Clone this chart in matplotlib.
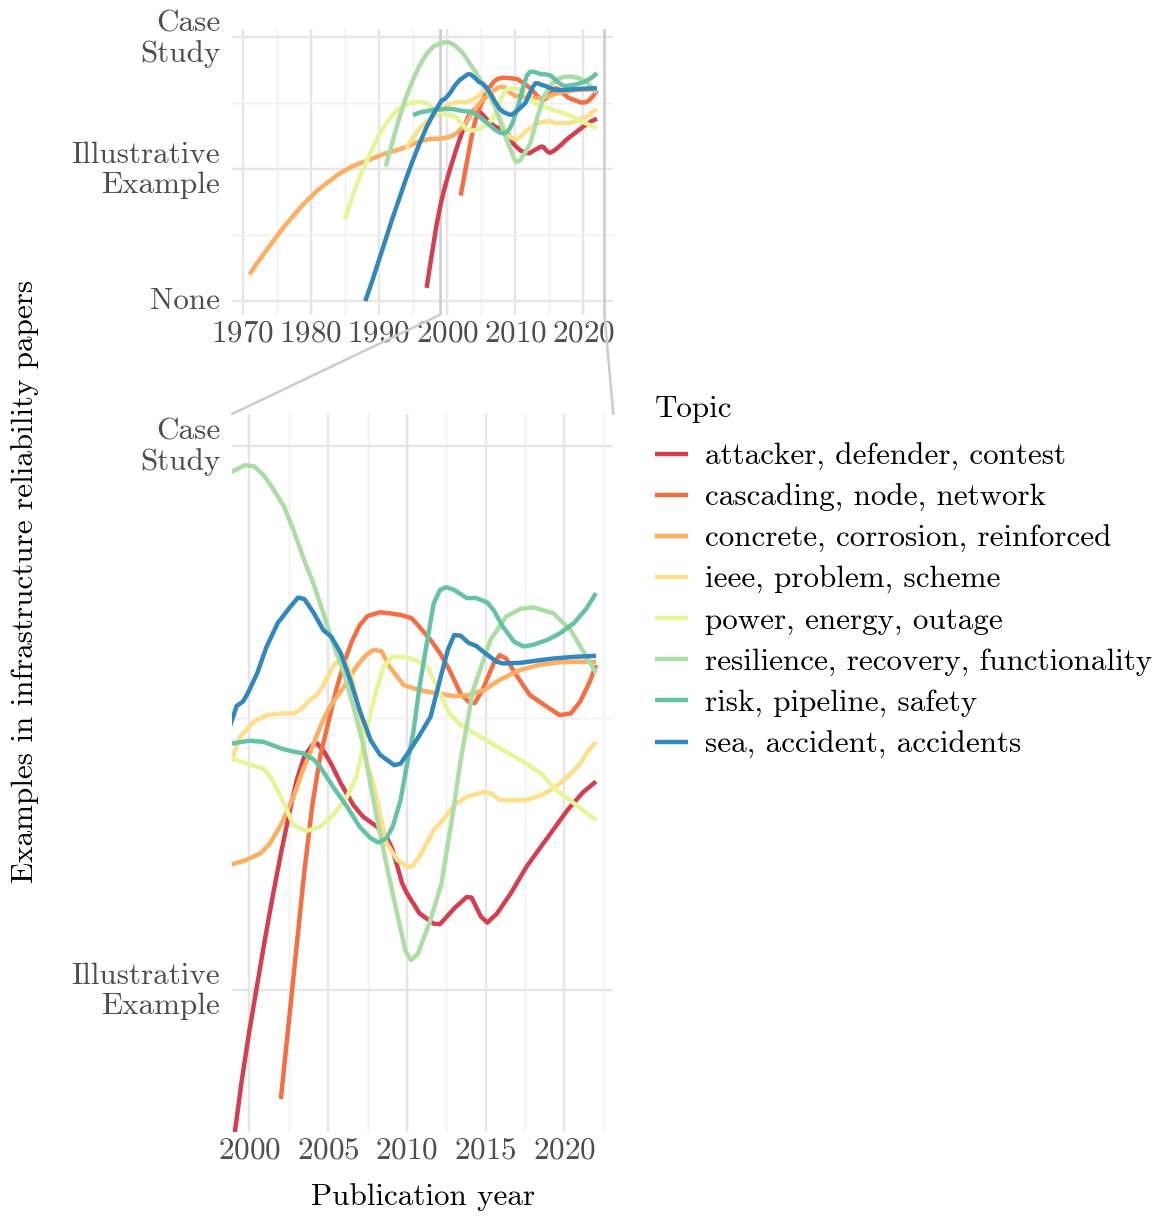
import matplotlib
matplotlib.use("Agg")
import matplotlib.pyplot as plt
import matplotlib.transforms as mtransforms
from matplotlib.lines import Line2D
from matplotlib.patches import ConnectionPatch
from matplotlib.ticker import MultipleLocator

plt.rcParams['font.family'] = 'cmr10'
plt.rcParams['mathtext.fontset'] = 'cm'
plt.rcParams['axes.formatter.use_mathtext'] = True

# ---- data: smoothed example level per topic over publication year ----
topics = [
    "attacker, defender, contest",
    "cascading, node, network",
    "concrete, corrosion, reinforced",
    "ieee, problem, scheme",
    "power, energy, outage",
    "resilience, recovery, functionality",
    "risk, pipeline, safety",
    "sea, accident, accidents",
]
colors = ["#D53E4F", "#F46D43", "#FDAE61", "#FEE08B",
          "#E6F598", "#ABDDA4", "#66C2A5", "#3288BD"]

attacker_year = [1997.0, 1997.5, 1998.0, 1998.5, 1999.1, 1999.5, 2000.0, 2000.5, 2001.0,
                 2001.5, 2002.0, 2002.5, 2003.0, 2003.5, 2004.0, 2004.3, 2004.7, 2005.2,
                 2005.8, 2006.6, 2007.2, 2008.1, 2008.7, 2009.1, 2009.7, 2010.0, 2010.8,
                 2011.7, 2012.1, 2013.0, 2013.8, 2014.1, 2014.7, 2015.1, 2015.7, 2016.6,
                 2017.6, 2018.9, 2020.2, 2021.2, 2022.0]
attacker_val = [0.10, 0.27, 0.43, 0.59, 0.743, 0.83, 0.925, 1.01, 1.095,
                1.175, 1.25, 1.32, 1.385, 1.43, 1.450, 1.453, 1.44, 1.415,
                1.38, 1.340, 1.319, 1.300, 1.282, 1.257, 1.196, 1.178, 1.141,
                1.122, 1.121, 1.150, 1.171, 1.170, 1.135, 1.124, 1.140, 1.178,
                1.227, 1.279, 1.331, 1.364, 1.383]

cascading_year = [2002.0, 2002.5, 2003.0, 2003.5, 2004.0, 2004.5, 2005.0, 2005.5, 2006.0,
                  2006.5, 2007.0, 2007.5, 2008.3, 2008.9, 2009.6, 2010.3, 2010.8, 2011.5,
                  2012.1, 2012.7, 2013.4, 2013.9, 2014.3, 2014.8, 2015.5, 2015.9, 2016.3,
                  2017.0, 2017.8, 2018.7, 2019.7, 2020.4, 2021.0, 2021.6, 2022.0]
cascading_val = [0.80, 0.94, 1.08, 1.22, 1.34, 1.43, 1.49, 1.55, 1.60,
                 1.64, 1.67, 1.687, 1.694, 1.692, 1.689, 1.683, 1.667, 1.643,
                 1.619, 1.588, 1.545, 1.530, 1.527, 1.551, 1.600, 1.615, 1.609,
                 1.576, 1.542, 1.524, 1.505, 1.508, 1.530, 1.566, 1.597]

concrete_year = [1971, 1972, 1973, 1974, 1975, 1976, 1977, 1978, 1979, 1980, 1981, 1982,
                 1983, 1984, 1985, 1986, 1987, 1988, 1989, 1990, 1991, 1992, 1993, 1994,
                 1995, 1996, 1997, 1998, 1998.9, 1999.8, 2000.7, 2001.3, 2002.05, 2002.8,
                 2003.4, 2003.85, 2004.5, 2005.1, 2006.0, 2006.8, 2007.4, 2007.9, 2008.4,
                 2008.9, 2009.8, 2010.8, 2011.9, 2013.0, 2013.8, 2014.9, 2015.9, 2017.2,
                 2018.4, 2019.7, 2021.0, 2022.0]
concrete_val = [0.20, 0.28, 0.35, 0.42, 0.49, 0.56, 0.62, 0.68, 0.74, 0.79, 0.84, 0.88,
                0.92, 0.96, 0.99, 1.02, 1.04, 1.06, 1.08, 1.10, 1.12, 1.135, 1.15, 1.17,
                1.19, 1.21, 1.225, 1.23, 1.231, 1.239, 1.251, 1.269, 1.306, 1.355,
                1.404, 1.435, 1.484, 1.520, 1.557, 1.594, 1.615, 1.625, 1.622,
                1.594, 1.560, 1.551, 1.545, 1.540, 1.541, 1.551, 1.570, 1.588,
                1.597, 1.602, 1.603, 1.603]

ieee_year = [1994, 1995, 1996, 1997, 1998, 1998.9, 1999.4, 2000.3, 2001.1, 2002.0,
             2002.8, 2003.2, 2003.85, 2004.3, 2004.7, 2005.3, 2005.8, 2006.2, 2006.6,
             2007.0, 2007.4, 2007.8, 2008.1, 2008.7, 2009.4, 2010.0, 2010.3, 2010.8,
             2011.7, 2012.3, 2013.0, 2013.8, 2014.9, 2015.3, 2015.9, 2016.8, 2017.6,
             2018.5, 2019.3, 2020.2, 2021.0, 2021.4, 2022.0]
ieee_val = [1.16, 1.24, 1.31, 1.36, 1.40, 1.423, 1.465, 1.493, 1.505, 1.508,
            1.508, 1.514, 1.533, 1.542, 1.560, 1.594, 1.610, 1.600, 1.565,
            1.502, 1.423, 1.386, 1.349, 1.270, 1.239, 1.227, 1.227, 1.245,
            1.294, 1.313, 1.340, 1.355, 1.364, 1.362, 1.349, 1.349, 1.349,
            1.358, 1.370, 1.392, 1.416, 1.435, 1.456]

power_year = [1985, 1986, 1987, 1988, 1989, 1990, 1991, 1992, 1993, 1994, 1995, 1996,
              1997, 1998, 1998.9, 1999.8, 2000.9, 2001.4, 2002.2, 2002.8, 2003.6, 2004.5,
              2005.3, 2006.2, 2006.8, 2007.2, 2007.9, 2008.5, 2009.1, 2009.8, 2010.6,
              2011.3, 2011.9, 2012.7, 2013.4, 2014.7, 2015.9, 2017.2, 2018.5, 2019.5,
              2020.6, 2022.0]
power_val = [0.62, 0.78, 0.92, 1.04, 1.15, 1.26, 1.34, 1.41, 1.46, 1.49, 1.505, 1.51,
             1.50, 1.46, 1.426, 1.416, 1.407, 1.389, 1.343, 1.303, 1.292, 1.300,
             1.321, 1.355, 1.392, 1.447, 1.533, 1.594, 1.612, 1.612, 1.606,
             1.594, 1.557, 1.508, 1.487, 1.465, 1.444, 1.423, 1.398, 1.367,
             1.343, 1.312]

resilience_year = [1991, 1992, 1993, 1994, 1995, 1996, 1997, 1998, 1998.9, 1999.7,
                   2000.3, 2000.9, 2001.5, 2002.2, 2002.8, 2003.4, 2004.1, 2004.7,
                   2005.3, 2006.0, 2006.6, 2007.2, 2008.1, 2009.0, 2009.9, 2010.25,
                   2010.7, 2011.5, 2012.2, 2012.95, 2013.4, 2014.2, 2015.3, 2016.3,
                   2017.2, 2018.0, 2019.3, 2020.4, 2021.4, 2022.0]
resilience_val = [1.02, 1.21, 1.39, 1.55, 1.68, 1.79, 1.875, 1.93, 1.952, 1.964,
                  1.962, 1.946, 1.921, 1.888, 1.845, 1.796, 1.744, 1.692,
                  1.637, 1.582, 1.521, 1.454, 1.315, 1.190, 1.073, 1.055,
                  1.067, 1.129, 1.196, 1.331, 1.420, 1.551, 1.643, 1.686,
                  1.700, 1.703, 1.692, 1.661, 1.612, 1.582]

risk_year = [1995, 1996, 1997, 1998, 1998.9, 2000.0, 2000.9, 2002.0, 2002.8, 2003.4,
             2004.1, 2004.5, 2005.3, 2006.2, 2007.0, 2007.7, 2008.2, 2008.7, 2009.1,
             2009.6, 2009.9, 2010.4, 2010.8, 2011.3, 2011.7, 2012.1, 2012.5, 2013.0,
             2013.8, 2014.4, 2015.1, 2015.5, 2016.1, 2016.8, 2017.4, 2018.0, 2018.9,
             2019.7, 2020.6, 2021.4, 2022.0]
risk_val = [1.41, 1.43, 1.44, 1.45, 1.453, 1.458, 1.456, 1.444, 1.438, 1.435,
            1.423, 1.410, 1.374, 1.337, 1.300, 1.279, 1.271, 1.279, 1.300,
            1.349, 1.398, 1.472, 1.557, 1.643, 1.710, 1.735, 1.740, 1.735,
            1.720, 1.720, 1.712, 1.698, 1.667, 1.640, 1.631, 1.634, 1.643,
            1.655, 1.674, 1.701, 1.729]

sea_year = [1988, 1989, 1990, 1991, 1992, 1993, 1994, 1995, 1996, 1997, 1998, 1998.9,
            1999.2, 1999.6, 1999.9, 2000.5, 2001.1, 2001.8, 2002.6, 2003.1, 2003.5,
            2004.1, 2004.7, 2005.2, 2005.8, 2006.4, 2007.0, 2007.7, 2008.3, 2009.2,
            2009.6, 2010.2, 2010.8, 2011.5, 2012.1, 2012.6, 2013.0, 2013.4, 2013.9,
            2014.4, 2015.0, 2015.7, 2016.1, 2017.2, 2018.2, 2019.3, 2020.6, 2022.0]
sea_val = [0.0, 0.15, 0.31, 0.47, 0.63, 0.78, 0.93, 1.07, 1.20, 1.32, 1.42, 1.496,
           1.522, 1.530, 1.545, 1.582, 1.631, 1.674, 1.704, 1.721, 1.718,
           1.692, 1.661, 1.649, 1.619, 1.570, 1.514, 1.459, 1.432, 1.413,
           1.416, 1.441, 1.468, 1.502, 1.570, 1.625, 1.652, 1.651, 1.638,
           1.632, 1.618, 1.603, 1.600, 1.601, 1.605, 1.609, 1.612, 1.614]

series = [
    (attacker_year, attacker_val),
    (cascading_year, cascading_val),
    (concrete_year, concrete_val),
    (ieee_year, ieee_val),
    (power_year, power_val),
    (resilience_year, resilience_val),
    (risk_year, risk_val),
    (sea_year, sea_val),
]

level_ticks = [0, 1, 2]
level_labels = ["None", "Illustrative\nExample", "Case\nStudy"]
zoom_range = (1998.9, 2023.1)

# ---- layout (pixel geometry of a 1164 x 1217 canvas) ----
W, H = 1164, 1217
fig = plt.figure(figsize=(W / 100, H / 100), dpi=100)


def px_axes(left, top, right, bottom):
    return fig.add_axes([left / W, 1 - bottom / H, (right - left) / W, (bottom - top) / H])


ax_top = px_axes(232, 29.3, 613.3, 315)
ax_bot = px_axes(232, 414, 613.3, 1131.7)

FS = 22.4
TICK_COLOR = "#4D4D4D"
LW = 3.2

for ax in (ax_top, ax_bot):
    for s in ax.spines.values():
        s.set_visible(False)
    ax.set_facecolor("white")
    ax.grid(True, which="major", color="#E6E6E6", linewidth=1.7, zorder=0)
    ax.grid(True, which="minor", color="#EFEFEF", linewidth=1.0, zorder=0)
    ax.tick_params(which="both", length=0, labelsize=FS, labelcolor=TICK_COLOR)
    ax.tick_params(axis="y", pad=8.5)
    ax.tick_params(axis="x", pad=4)
    ax.set_axisbelow(True)
    ax.set_yticks(level_ticks)
    ax.set_yticklabels(level_labels)
    ax.yaxis.set_minor_locator(MultipleLocator(0.5))
    for (yrs, vals), c in zip(series, colors):
        ax.plot(yrs, vals, color=c, linewidth=LW, solid_capstyle="butt",
                solid_joinstyle="round", zorder=3)

# overview panel
ax_top.set_xlim(1968.43, 2024.4)
ax_top.set_ylim(-0.106, 2.061)
ax_top.xaxis.set_major_locator(MultipleLocator(10))
ax_top.xaxis.set_minor_locator(MultipleLocator(5))

# zoomed panel
ax_bot.set_xlim(*zoom_range)
ax_bot.set_ylim(0.74, 2.058)
ax_bot.xaxis.set_major_locator(MultipleLocator(5))
ax_bot.xaxis.set_minor_locator(MultipleLocator(2.5))

# level labels: tighter line pitch and a small upward nudge
lift = mtransforms.ScaledTranslation(0, 3 / 100, fig.dpi_scale_trans)
for ax in (ax_top, ax_bot):
    for lab in ax.get_yticklabels():
        lab.set_linespacing(1.12)
        lab.set_transform(lab.get_transform() + lift)

# zoom indicator and connectors
ZCOL = "#CCCCCC"
for xv in zoom_range:
    ax_top.axvline(xv, color=ZCOL, linewidth=1.8, zorder=1)
for xv in zoom_range:
    con = ConnectionPatch(xyA=(xv, ax_top.get_ylim()[0]), coordsA=ax_top.transData,
                          xyB=(xv, ax_bot.get_ylim()[1]), coordsB=ax_bot.transData,
                          color=ZCOL, linewidth=1.8)
    fig.add_artist(con)

# axis titles
fig.text(422.6 / W, 1 - 1197 / H, "Publication year", ha="center", va="center", fontsize=FS)
fig.text(25 / W, 1 - 581 / H, "Examples in infrastructure reliability papers",
         ha="center", va="center", rotation=90, fontsize=FS)

# legend
handles = [Line2D([], [], color=c, linewidth=LW, solid_capstyle="butt") for c in colors]
leg = fig.legend(handles, topics, loc="upper left",
                 bbox_to_anchor=(655 / W, 1 - 396 / H), frameon=False,
                 title="Topic", alignment="left", fontsize=FS, title_fontsize=FS,
                 handlelength=1.06, handletextpad=0.55, labelspacing=0.423,
                 borderpad=0, borderaxespad=0)
# a little more room between the legend title and its entries
leg._legend_box.sep = 0.423 * FS + 4.3

fig.savefig("out.png", dpi=100, facecolor="white")
